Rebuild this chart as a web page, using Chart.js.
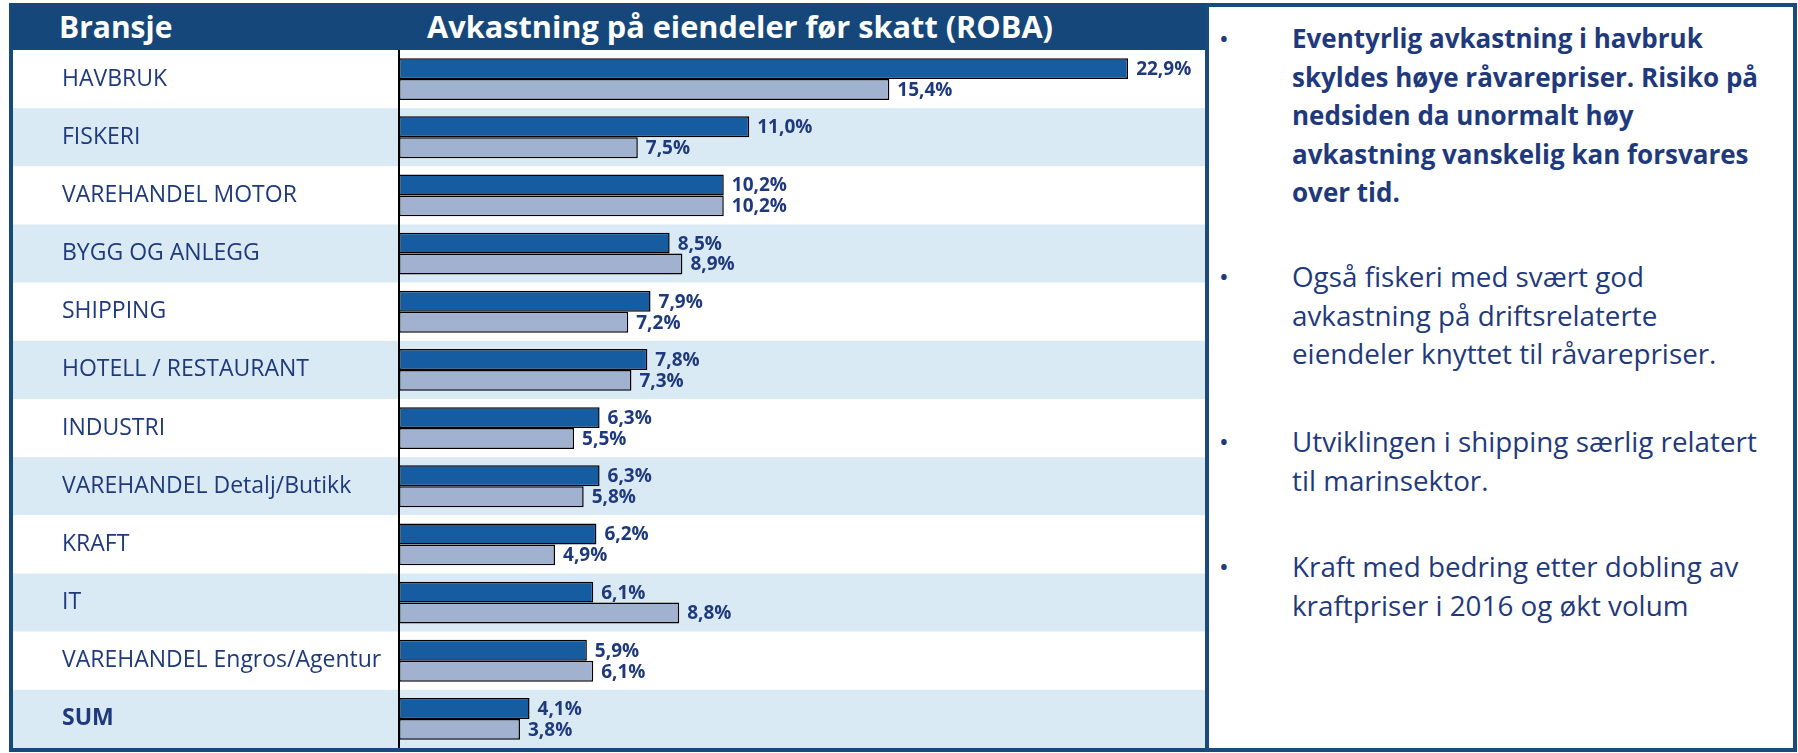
<!DOCTYPE html>
<html lang="no">
<head>
<meta charset="utf-8">
<title>Avkastning på eiendeler før skatt (ROBA)</title>
<script src="https://cdn.jsdelivr.net/npm/chart.js@4.4.1/dist/chart.umd.min.js"></script>
<style>
  html, body { margin: 0; padding: 0; background: #fff; }
  body { width: 1798px; height: 753px; position: relative; overflow: hidden; font-family: "Open Sans", sans-serif; color: #1f3a7c; }
  .abs { position: absolute; }
  .head { left: 9px; top: 3px; width: 1196px; height: 47px; background: #15477a; color: #fff; font-weight: 700; font-size: 30px; line-height: 47px; }
  .head span { position: absolute; top: 0; white-space: nowrap; }
  .edge { background: #164a7b; }
  .chart-wrap { left: 13px; top: 50px; width: 1192px; height: 698px; }
  .chart-wrap canvas { display: block; }
  .notes { left: 1205px; top: 3px; width: 592px; height: 749px; box-sizing: border-box; border: 4px solid #1a4b7c; background: #fff; }
  .note { position: absolute; left: 1292px; line-height: 38.5px; white-space: nowrap; font-size: 27.8px; }
  .note.strong { font-weight: 700; font-size: 26px; }
  .dot { position: absolute; left: 1219px; line-height: 38.5px; font-size: 26px; }
</style>
</head>
<body>
  <div class="abs head">
    <span style="left:50px;">Bransje</span>
    <span style="left:418px; font-size:30.7px;">Avkastning på eiendeler før skatt (ROBA)</span>
  </div>
  <div class="abs edge" style="left:9px; top:50px; width:4px; height:702px;"></div>
  <div class="abs edge" style="left:9px; top:748px; width:1196px; height:4px;"></div>
  <div class="abs chart-wrap"><canvas id="robaChart" width="1192" height="698"></canvas></div>

  <div class="abs notes"></div>
  <div class="dot" style="top:19px;">•</div>
  <div class="note strong" style="top:19px;">Eventyrlig avkastning i havbruk<br>skyldes høye råvarepriser. Risiko på<br>nedsiden da unormalt høy<br>avkastning vanskelig kan forsvares<br>over tid.</div>
  <div class="dot" style="top:257px;">•</div>
  <div class="note" style="top:257px;">Også fiskeri med svært god<br>avkastning på driftsrelaterte<br>eiendeler knyttet til råvarepriser.</div>
  <div class="dot" style="top:422px;">•</div>
  <div class="note" style="top:422px;">Utviklingen i shipping særlig relatert<br>til marinsektor.</div>
  <div class="dot" style="top:547px;">•</div>
  <div class="note" style="top:547px;">Kraft med bedring etter dobling av<br>kraftpriser i 2016 og økt volum</div>

<script>
const categories = [
  "HAVBRUK", "FISKERI", "VAREHANDEL MOTOR", "BYGG OG ANLEGG", "SHIPPING",
  "HOTELL / RESTAURANT", "INDUSTRI", "VAREHANDEL Detalj/Butikk", "KRAFT", "IT",
  "VAREHANDEL Engros/Agentur", "SUM"
];
const robaLatest = [22.9, 11.0, 10.2, 8.5, 7.9, 7.8, 6.3, 6.3, 6.2, 6.1, 5.9, 4.1];
const robaPrevious = [15.4, 7.5, 10.2, 8.9, 7.2, 7.3, 5.5, 5.8, 4.9, 8.8, 6.1, 3.8];

const navy = "#1f3a7c";
const rowShade = "#daeaf5";
const fontFamily = "'Open Sans', sans-serif";

const pct = (v) => v.toFixed(1).replace(".", ",") + "%";

// alternating row bands across the whole panel, drawn under everything
const rowBands = {
  id: "rowBands",
  beforeDraw(chart) {
    const { ctx, scales: { y } } = chart;
    const step = y.height / categories.length;
    ctx.save();
    categories.forEach((c, i) => {
      const mid = y.getPixelForValue(i);
      ctx.fillStyle = i % 2 ? rowShade : "#ffffff";
      ctx.fillRect(0, mid - step / 2, chart.width, step);
    });
    ctx.restore();
  }
};

// value labels right of each bar end
const valueLabels = {
  id: "valueLabels",
  afterDatasetsDraw(chart) {
    const ctx = chart.ctx;
    ctx.save();
    ctx.font = "700 19px " + fontFamily;
    ctx.fillStyle = navy;
    ctx.textBaseline = "middle";
    ctx.textAlign = "left";
    chart.data.datasets.forEach((ds, di) => {
      chart.getDatasetMeta(di).data.forEach((bar, i) => {
        ctx.fillText(pct(ds.data[i]), bar.x + 8, bar.y + 1);
      });
    });
    ctx.restore();
  }
};

new Chart(document.getElementById("robaChart"), {
  type: "bar",
  data: {
    labels: categories,
    datasets: [
      {
        label: "Siste år",
        data: robaLatest,
        backgroundColor: "#155da0",
        borderColor: "#000",
        borderWidth: 1.5,
        borderSkipped: false,
      },
      {
        label: "Året før",
        data: robaPrevious,
        backgroundColor: "#a0b2cf",
        borderColor: "#000",
        borderWidth: 1.5,
        borderSkipped: false,
      },
    ],
  },
  options: {
    indexAxis: "y",
    responsive: false,
    animation: false,
    categoryPercentage: 0.72,
    barPercentage: 1.0,
    layout: { padding: { left: 49, right: 10, top: 0, bottom: 0 } },
    plugins: { legend: { display: false }, tooltip: { enabled: false } },
    scales: {
      x: { display: false, min: 0, max: 25 },
      y: {
        grid: { display: false },
        border: { display: true, color: "#000", width: 2 },
        ticks: {
          crossAlign: "far",
          color: navy,
          font: (ctx) => ({ family: fontFamily, size: 23, weight: ctx.index === categories.length - 1 ? "bold" : "normal" }),
        },
        afterFit: (scale) => {
          scale.width = 337;
          // rows fill the full panel height, no room kept for label overhang
          scale.paddingTop = 0;
          scale.paddingBottom = 0;
        },
      },
    },
  },
  plugins: [rowBands, valueLabels],
});
</script>
</body>
</html>
